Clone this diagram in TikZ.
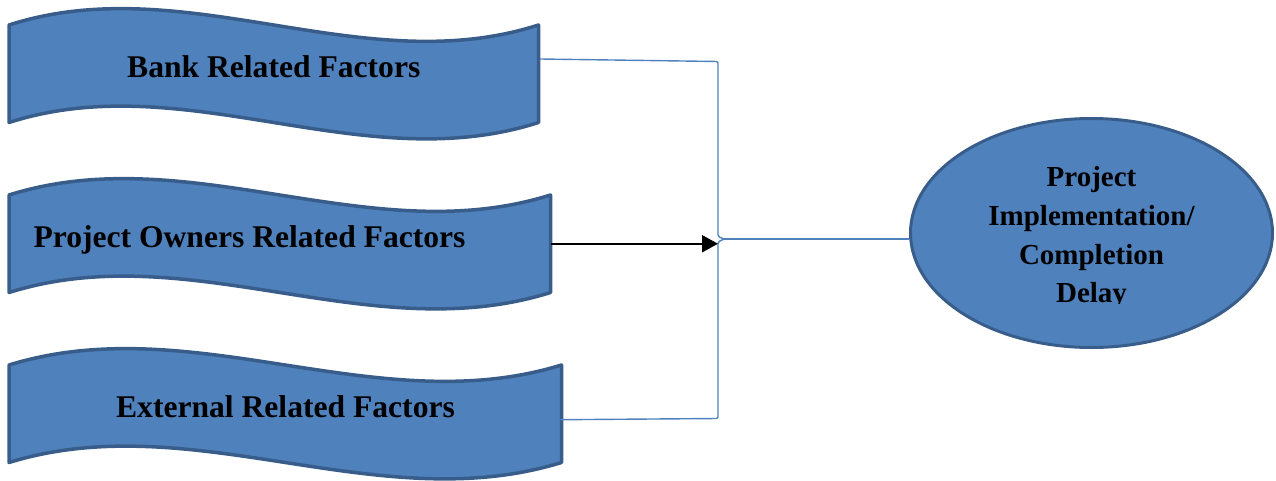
\documentclass[tikz,border=0pt]{standalone}
\usepackage{fontspec}
\setmainfont{Liberation Serif}
\usetikzlibrary{calc,arrows.meta,shapes.geometric}
\definecolor{wavefill}{HTML}{4F81BD}
\definecolor{waveedge}{HTML}{385D8A}

% wave-shaped banner drawn around an (invisible) rectangular node
\newcommand\wavebanner[1]{%
  \path[wave] (#1.north west)
    .. controls ($(#1.north west)!1/3!(#1.north east)+(0,-56.7)$)
            and ($(#1.north west)!2/3!(#1.north east)+(0,56.7)$) .. (#1.north east)
    -- (#1.south east)
    .. controls ($(#1.south west)!2/3!(#1.south east)+(0,56.7)$)
            and ($(#1.south west)!1/3!(#1.south east)+(0,-56.7)$) .. (#1.south west)
    -- cycle;}

\begin{document}
\begin{tikzpicture}[x=1pt,y=-1pt,
  bannerbox/.style={rectangle, inner sep=0pt, outer sep=0pt},
  wave/.style={fill=wavefill, draw=waveedge, line width=3.5pt, line join=round},
  factor/.style={font=\bfseries\fontsize{31.6}{38}\selectfont, inner sep=0pt, anchor=base},
  goal/.style={ellipse, fill=wavefill, draw=waveedge, line width=3pt,
    minimum width=362pt, minimum height=229pt, inner sep=0pt},
  goaltext/.style={font=\bfseries\fontsize{29}{38.7}\selectfont, align=center, inner sep=0pt},
  link/.style={draw=wavefill, line width=1.4pt},
  feed/.style={draw=black, line width=2pt, -{Triangle[length=16pt,width=17pt]}},
  ]
\useasboundingbox (0,0) rectangle (1276,481);

% banner frames
\node[bannerbox, minimum width=529.5pt, minimum height=97.5pt] (b1) at (273.75,73.75) {};
\node[bannerbox, minimum width=541.5pt, minimum height=97.5pt] (b2) at (279.75,243.75) {};
\node[bannerbox, minimum width=552.5pt, minimum height=97.5pt] (b3) at (285.25,413.75) {};

\wavebanner{b1}
\wavebanner{b2}
\wavebanner{b3}

% outcome
\node[goal] (pd) at (1091.5,233) {};

% bracket joining the factors
\coordinate (b1out) at (540,59);
\coordinate (b3in) at (523,420);
\coordinate (tip) at (724,239);
\coordinate (bx) at (718,0);
\draw[link, rounded corners=1.5pt] (b1out) -- (718,61.5) -- (718,236.5) -- (tip);
\draw[link, rounded corners=1.5pt] (b3in) -- (718,418.5) -- (718,242) -- (tip);
\draw[link] (tip) -- (tip -| pd.west);

\draw[feed] (b2.east) -- (b2.east -| bx);

% labels
\node[factor] (t1) at (273.75,78) {Bank Related Factors};
\node[factor] (t2) at (249.5,247) {Project Owners Related Factors};
\node[factor] (t3) at (285.5,417) {External Related Factors};

% the last line is cut at its baseline
\begin{scope}
  \clip (900,100) rectangle (1280,303.5);
  \node[goaltext, anchor=base] (gt) at (1091.5,302.7)
    {Project\\Implementation/\\Completion\\Delay};
\end{scope}
\end{tikzpicture}
\end{document}
